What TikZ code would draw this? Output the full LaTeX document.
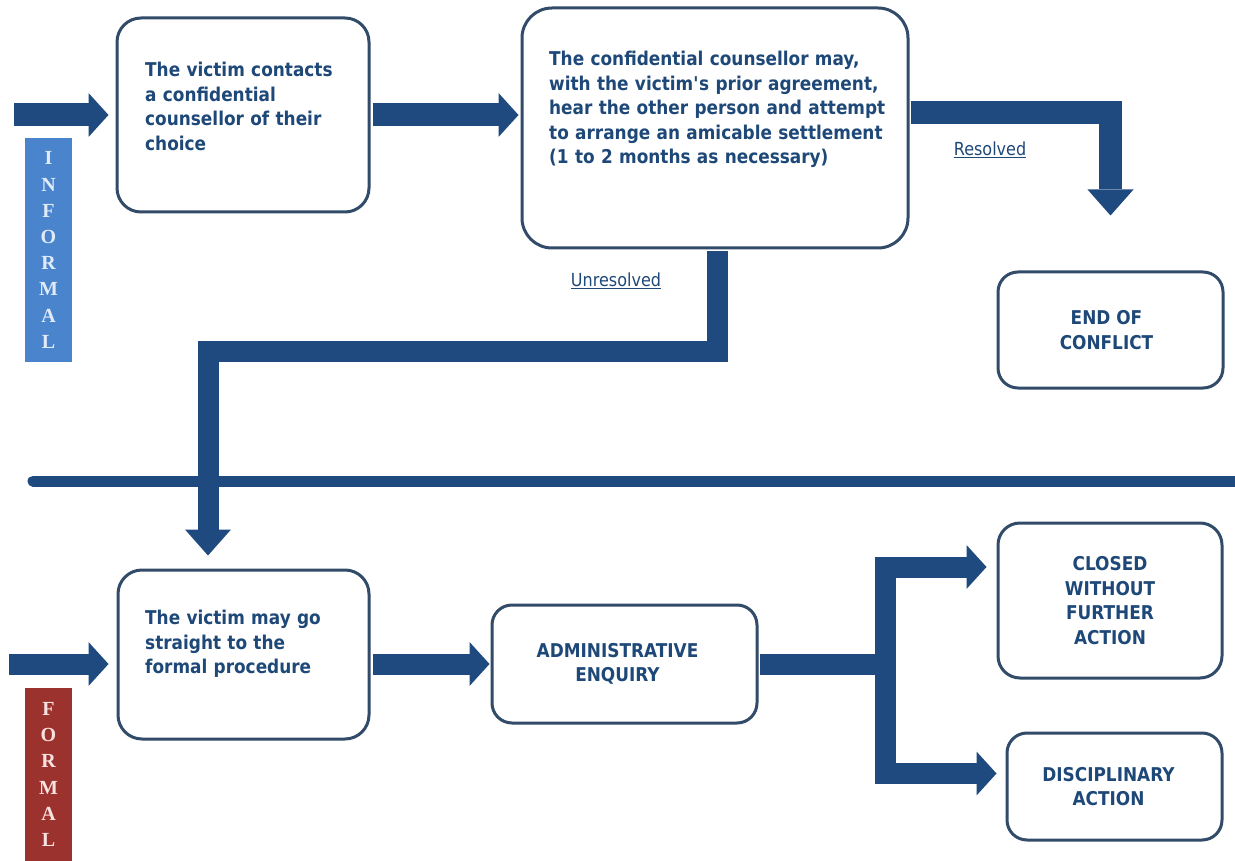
\documentclass[tikz,border=0pt]{standalone}
\usepackage{fontspec}
\setmainfont{DejaVu Sans}
\newfontfamily\boxfont[FakeStretch=0.89]{DejaVu Sans}
\newfontfamily\barfont{Liberation Serif}
\usetikzlibrary{arrows.meta,calc}
\definecolor{arrowc}{RGB}{31,74,128}
\definecolor{txtc}{RGB}{30,72,120}
\definecolor{borderc}{RGB}{50,75,105}
\definecolor{infc}{RGB}{74,132,204}
\definecolor{infl}{RGB}{225,234,248}
\definecolor{forc}{RGB}{155,50,45}
\definecolor{forl}{RGB}{248,225,225}
\tikzset{
  box/.style={draw=borderc, line width=3pt, fill=white, rounded corners=24pt, inner sep=0pt},
  boxtext/.style={text=txtc, font=\boxfont\bfseries\fontsize{19pt}{24.5pt}\selectfont, align=left, inner sep=0pt, anchor=north west},
  captext/.style={text=txtc, font=\boxfont\bfseries\fontsize{19pt}{24.5pt}\selectfont, align=center},
  lbl/.style={text=txtc, font=\boxfont\fontsize{18pt}{22pt}\selectfont, inner sep=0pt},
  bigarrow/.style={draw=arrowc, line width=21pt, line join=miter, -{Triangle[width=44pt,length=20pt,line width=0pt]}},
  longhead/.style={-{Triangle[width=46pt,length=26pt,line width=0pt]}},
  bar/.style={draw=arrowc, line width=21pt},
  sidebar/.style={inner sep=0pt, minimum width=47pt, align=center, font=\barfont\bfseries\fontsize{20pt}{26.2pt}\selectfont}
}
\begin{document}
\begin{tikzpicture}[x=1pt,y=-1pt]
\useasboundingbox (0,0) rectangle (1235,861);
\fill[white] (0,0) rectangle (1235,861);

% coordinates for free ends
\coordinate (in1) at (14,115);
\coordinate (in2) at (9,664);
\coordinate (div1) at (33,481);
\coordinate (div2) at (1240,481);
\coordinate (jt) at (885.5,567);
\coordinate (jb) at (885.5,773.5);

% divider
\draw[arrowc, line width=11pt, line cap=round] (div1) -- (div2);

% side bars
\node[sidebar, fill=infc, text=infl, minimum height=224pt] (inf) at (48.5,250) {I\\N\\F\\O\\R\\M\\A\\L};
\node[sidebar, fill=forc, text=forl, minimum height=173pt] (form) at (48.5,774.5) {F\\O\\R\\M\\A\\L};

% boxes
\node[box, minimum width=252pt, minimum height=194pt] (b1) at (243,115) {};
\node[box, rounded corners=30pt, minimum width=386pt, minimum height=240pt] (b2) at (715,128) {};
\node[box, minimum width=251pt, minimum height=169pt] (b3) at (243.5,654.5) {};
\node[box, rounded corners=20pt, minimum width=265pt, minimum height=118pt] (adm) at (624.5,664) {};
\node[box, rounded corners=20pt, minimum width=225pt, minimum height=116pt] (endc) at (1110.5,330) {};
\node[box, rounded corners=22pt, minimum width=224pt, minimum height=155pt] (closed) at (1110,600.5) {};
\node[box, rounded corners=20pt, minimum width=215pt, minimum height=107pt] (disc) at (1114.5,786.5) {};

% arrows
\draw[bigarrow, line width=23pt] (in1) -- ($(b1.west)+(-7,0)$);
\draw[bigarrow, line width=23pt] ($(b1.east)+(2,0)$) -- ($(b1.east -| b2.west)+(-2,0)$);
\draw[bigarrow, longhead, line width=23pt] ($(b2.east)+(1.5,-15.5)$) -| ($(endc.north)+(0,-55)$);
\draw[bigarrow, longhead] ($(b2.south)+(2,1.5)$) |- ($(b3.north)+(-35.5,-217)$) -- ($(b3.north)+(-35.5,-13)$);
\draw[bigarrow] (in2) -- ($(b3.west |- adm.west)+(-8,0)$);
\draw[bigarrow] ($(b3.east |- adm.west)+(2,0)$) -- ($(adm.west)+(-1,0)$);
\draw[bar] ($(adm.east)+(1.5,0)$) -- (adm.east -| jt);
\draw[bigarrow] (jb) -- (jt) -- ($(jt -| closed.west)+(-10,0)$);
\draw[bigarrow] (jt) -- (jb) -- ($(jb -| disc.west)+(-9,0)$);

% texts
\node[boxtext, text width=215pt] (t1) at (145,62) {The victim contacts\\a confidential\\counsellor of their\\choice};
\node[boxtext, text width=345pt] (t2) at (549,51) {The confidential counsellor may,\\with the victim\textquotesingle s prior agreement,\\hear the other person and attempt\\to arrange an amicable settlement\\(1 to 2 months as necessary)};
\node[boxtext, text width=215pt] (t3) at (145,610) {The victim may go\\straight to the\\formal procedure};
\node[captext] (t4) at ($(adm)+(-7,0)$) {ADMINISTRATIVE\\ENQUIRY};
\node[captext] (t5) at ($(endc)+(-4,0)$) {END OF\\CONFLICT};
\node[captext] (t6) at (closed) {CLOSED\\WITHOUT\\FURTHER\\ACTION};
\node[captext] (t7) at ($(disc)+(-6,0)$) {DISCIPLINARY\\ACTION};

\node[lbl] (res) at (990,150) {\underline{Resolved}};
\node[lbl] (unres) at (616,281) {\underline{Unresolved}};
\end{tikzpicture}
\end{document}
